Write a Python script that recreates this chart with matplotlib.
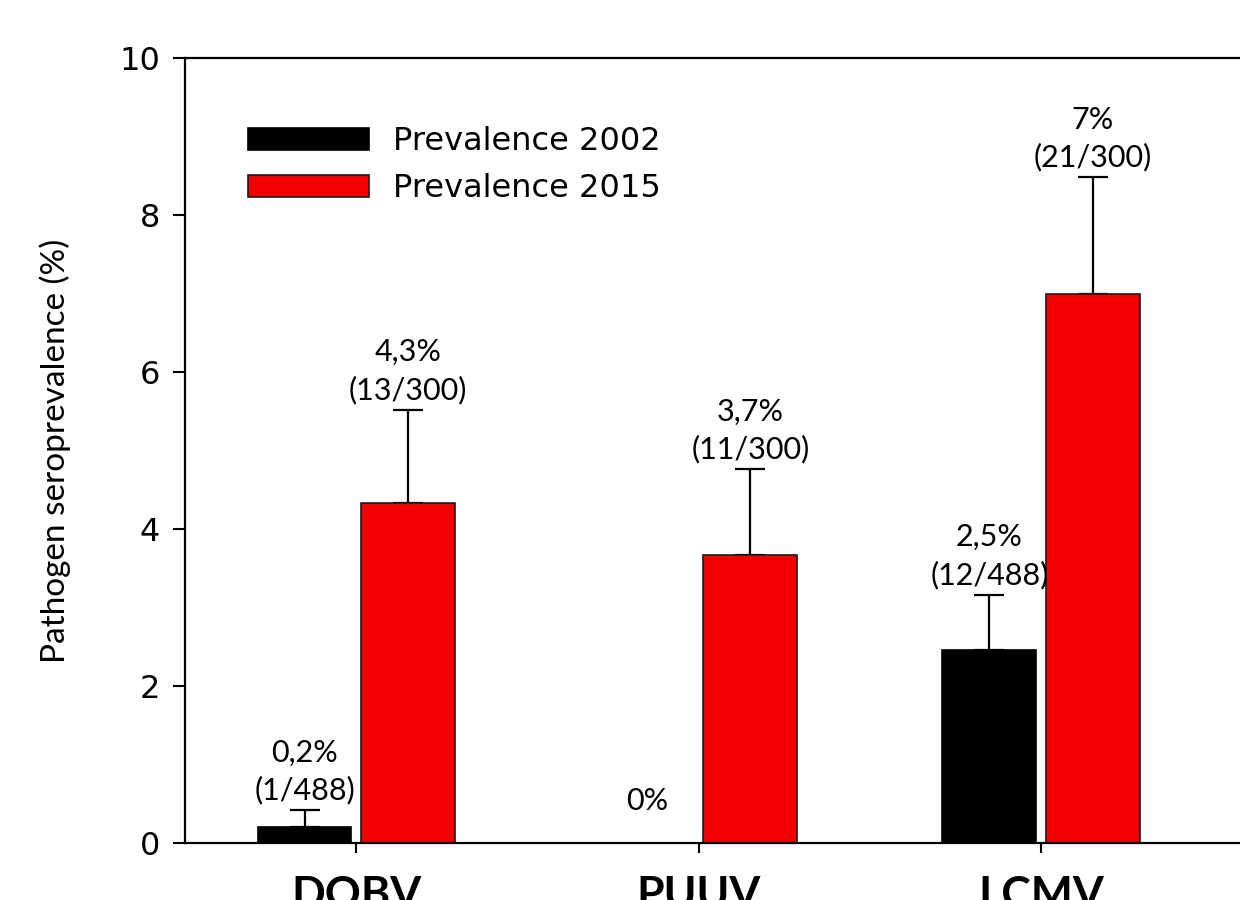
import matplotlib
matplotlib.use('Agg')
import matplotlib.pyplot as plt

# seroprevalence per virus, 2002 vs 2015 survey
viruses = ['DOBV', 'PUUV', 'LCMV']
prev_2002 = [0.2, 0.0, 2.46]
prev_2015 = [4.33, 3.67, 7.0]
err_2002 = [0.22, 0.0, 0.70]
err_2015 = [1.19, 1.09, 1.48]
labels_2002 = ['0,2%\n(1/488)', '0%', '2,5%\n(12/488)']
labels_2015 = ['4,3%\n(13/300)', '3,7%\n(11/300)', '7%\n(21/300)']

fig = plt.figure(figsize=(12.4, 9), dpi=100)
ax = fig.add_axes([185 / 1240, 57 / 900, 1075 / 1240, 785 / 900])

x = list(range(len(viruses)))
width = 0.274
off = 0.151
x02 = [i - off for i in x]
x15 = [i + off for i in x]

ax.bar(x02, prev_2002, width, color='black', edgecolor='black', linewidth=1.2,
       label='Prevalence 2002', zorder=2)
ax.bar(x15, prev_2015, width, color='#f20000', edgecolor='#1a1a1a', linewidth=1.2,
       label='Prevalence 2015', zorder=2)


def draw_errors(xs, vals, errs, labels):
    for xi, v, e, lab in zip(xs, vals, errs, labels):
        if e > 0:
            ax.errorbar(xi, v, yerr=[[0], [e]], fmt='none', ecolor='black',
                        elinewidth=1.6, capsize=11, capthick=1.6, zorder=1)
            dy = 4
        else:
            dy = 20
        ax.annotate(lab, xy=(xi, v + e), xytext=(0, dy), textcoords='offset points',
                    ha='center', va='bottom', fontsize=22, family='Lato',
                    linespacing=1.4)


draw_errors(x02, prev_2002, err_2002, labels_2002)
draw_errors(x15, prev_2015, err_2015, labels_2015)

ax.set_xlim(-0.5, (1260 - 356) / 342.5)
ax.set_ylim(0, 10)
ax.set_yticks([0, 2, 4, 6, 8, 10])
ax.set_xticks(x)
ax.set_xticklabels(viruses, fontsize=32, fontweight='bold', family='Lato')
ax.tick_params(axis='y', direction='out', length=9, width=1.5, pad=9, labelsize=23)
ax.tick_params(axis='x', direction='out', length=7, width=1.5, pad=16)
ax.spines['right'].set_visible(False)
for s in ['left', 'top', 'bottom']:
    ax.spines[s].set_linewidth(1.6)

ax.set_ylabel('Pathogen seroprevalence (%)', fontsize=24, family='Lato', labelpad=35)

ax.legend(loc='upper left', bbox_to_anchor=(248 / 1240, 1 - 126 / 900),
          bbox_transform=fig.transFigure, frameon=False, fontsize=23,
          handlelength=3.8, handleheight=0.7, handletextpad=0.75,
          labelspacing=0.5, borderpad=0, borderaxespad=0)

fig.savefig('out.png', dpi=100)
